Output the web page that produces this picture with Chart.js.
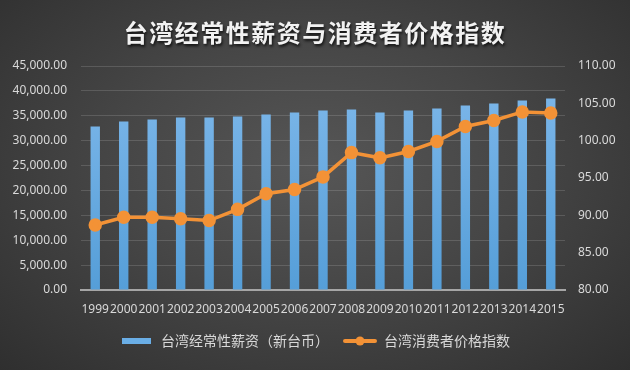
<!DOCTYPE html>
<html lang="zh">
<head>
<meta charset="UTF-8">
<title>台湾经常性薪资与消费者价格指数</title>
<style>
  html, body { margin: 0; padding: 0; }
  body { width: 630px; height: 370px; overflow: hidden;
         background: radial-gradient(ellipse at 50% 45%, #565656 0%, #464646 45%, #2f2f2f 100%); }
  #wrap { position: relative; width: 630px; height: 370px; }
</style>
</head>
<body>
<div id="wrap"><canvas id="c" width="630" height="370"></canvas></div>
<script src="https://cdn.jsdelivr.net/npm/chart.js"></script>
<script>
// 数据
const years = ['1999','2000','2001','2002','2003','2004','2005','2006','2007','2008','2009','2010','2011','2012','2013','2014','2015'];
const wages = [32850, 33850, 34250, 34650, 34650, 34850, 35250, 35650, 36050, 36250, 35650, 36050, 36450, 37050, 37450, 38050, 38450];
const cpi = [88.7, 89.75, 89.75, 89.55, 89.3, 90.8, 92.9, 93.45, 95.15, 98.4, 97.7, 98.55, 99.9, 101.9, 102.7, 103.85, 103.7];
const titleText = '台湾经常性薪资与消费者价格指数';
const wageLabel = '台湾经常性薪资（新台币）';
const cpiLabel = '台湾消费者价格指数';

const tickColor = '#d9d9d9';
const orange = '#f39236';

// 图例图标
function makeIcon(type) {
  const c = document.createElement('canvas');
  c.width = 34; c.height = 12;
  const g = c.getContext('2d');
  if (type === 'bar') {
    g.fillStyle = '#6aaee6';
    g.fillRect(2, 3, 29, 6);
  } else {
    g.strokeStyle = orange; g.lineWidth = 4; g.lineCap = 'round';
    g.beginPath(); g.moveTo(2, 6); g.lineTo(32, 6); g.stroke();
    g.fillStyle = orange;
    g.beginPath(); g.arc(17, 6, 4.5, 0, Math.PI * 2); g.fill();
  }
  return c;
}
const icons = { bar: makeIcon('bar'), line: makeIcon('line') };

// 标题（带阴影）
const titlePlugin = {
  id: 'shadowTitle',
  afterDraw(chart) {
    const ctx = chart.ctx;
    ctx.save();
    ctx.font = 'bold 24px "Noto Sans CJK SC"';
    ctx.letterSpacing = '1.5px';
    ctx.textAlign = 'center';
    ctx.textBaseline = 'middle';
    ctx.shadowColor = 'rgba(0,0,0,0.8)';
    ctx.shadowOffsetX = 1; ctx.shadowOffsetY = 2; ctx.shadowBlur = 3;
    ctx.fillStyle = '#f2f2f2';
    ctx.fillText(titleText, 315, 33);
    ctx.restore();
  }
};

const ctx = document.getElementById('c').getContext('2d');
new Chart(ctx, {
  data: {
    labels: years,
    datasets: [{
      type: 'line',
      label: cpiLabel,
      data: cpi,
      yAxisID: 'y1',
      borderColor: orange,
      backgroundColor: orange,
      borderWidth: 3.5,
      pointRadius: 5,
      pointStyle: 'circle',
      pointBackgroundColor: orange,
      pointBorderColor: orange,
      tension: 0,
      order: 0
    }, {
      type: 'bar',
      label: wageLabel,
      data: wages,
      yAxisID: 'y',
      backgroundColor: (c) => {
        const area = c.chart.chartArea;
        if (!area) return '#69ade5';
        const gr = c.chart.ctx.createLinearGradient(0, area.top, 0, area.bottom);
        gr.addColorStop(0, '#80b9eb');
        gr.addColorStop(1, '#559ed8');
        return gr;
      },
      barPercentage: 0.33,
      categoryPercentage: 1,
      order: 1
    }]
  },
  options: {
    responsive: false,
    animation: false,
    layout: { padding: { top: 66, left: 0, right: 0, bottom: 12 } },
    plugins: {
      title: { display: false },
      tooltip: { enabled: false },
      legend: {
        position: 'bottom',
        reverse: true,
        labels: {
          usePointStyle: true,
          pointStyleWidth: 34,
          color: tickColor,
          padding: 14,
          font: { family: '"Noto Sans CJK SC"', size: 14 },
          generateLabels(chart) {
            const items = Chart.defaults.plugins.legend.labels.generateLabels(chart);
            items.forEach(it => {
              const ds = chart.data.datasets[it.datasetIndex];
              it.pointStyle = icons[ds.type];
            });
            return items;
          }
        }
      }
    },
    scales: {
      x: {
        grid: { display: false, drawTicks: false },
        border: { color: '#a6a6a6', width: 2 },
        ticks: { color: tickColor, autoSkip: false, maxRotation: 0, padding: 12,
                 font: { family: '"Noto Sans"', size: 12 } },
        afterFit(a) { a.height = 30; }
      },
      y: {
        position: 'left',
        min: 0, max: 45000,
        ticks: {
          stepSize: 5000, color: tickColor, padding: 14,
          font: { family: '"Noto Sans"', size: 12 },
          callback: v => v.toLocaleString('en-US', { minimumFractionDigits: 2, maximumFractionDigits: 2 })
        },
        grid: { color: 'rgba(255,255,255,0.14)', drawTicks: false },
        border: { display: false },
        afterFit(a) { a.width = 81; }
      },
      y1: {
        position: 'right',
        min: 80, max: 110,
        ticks: {
          stepSize: 5, color: tickColor, padding: 13,
          font: { family: '"Noto Sans"', size: 12 },
          callback: v => v.toFixed(2)
        },
        grid: { display: false, drawTicks: false },
        border: { display: false },
        afterFit(a) { a.width = 65; }
      }
    }
  },
  plugins: [titlePlugin]
});
</script>
</body>
</html>
